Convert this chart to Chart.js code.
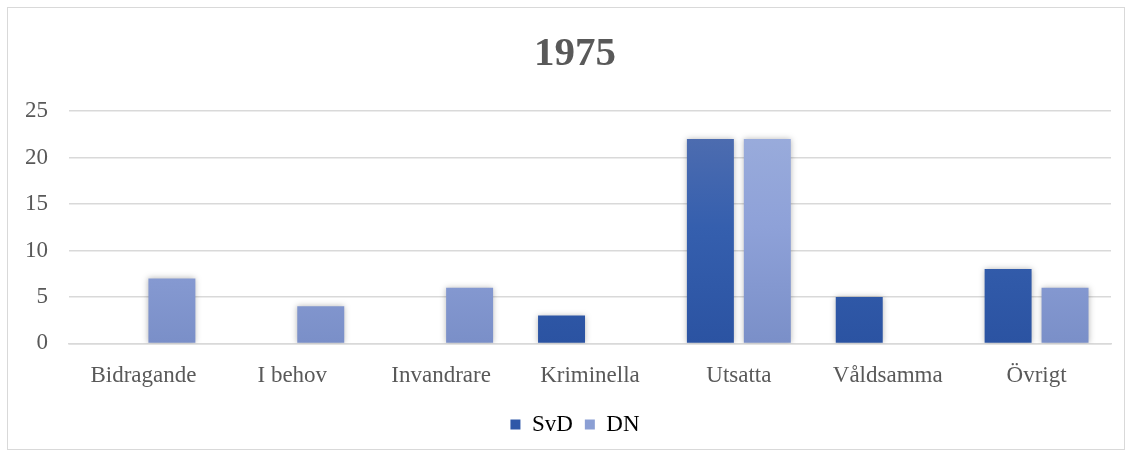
<!DOCTYPE html>
<html lang="sv">
<head>
<meta charset="UTF-8">
<title>1975</title>
<script src="https://cdn.jsdelivr.net/npm/chart.js"></script>
<style>
  html, body { margin: 0; padding: 0; background: #fff; }
  #wrap {
    position: absolute; left: 7px; top: 7px;
    width: 1116px; height: 441px;
    border: 1px solid #d9d9d9;
  }
</style>
</head>
<body>
<div id="wrap"><canvas id="myChart"></canvas></div>
<script>
  // data
  const categories = ['Bidragande', 'I behov', 'Invandrare', 'Kriminella', 'Utsatta', 'Våldsamma', 'Övrigt'];
  const svd = [0, 0, 0, 3, 22, 5, 8];
  const dn = [7, 4, 6, 0, 22, 0, 6];
  const yTicks = [0, 5, 10, 15, 20, 25];

  const serif = '"Liberation Serif", "Times New Roman", serif';

  function grad(ctx, top, mid, bottom) {
    const area = ctx.chart.chartArea;
    if (!area) return mid;
    const el = ctx.element;
    const y0 = el && el.y !== undefined ? el.y : area.top;
    const y1 = el && el.base !== undefined ? el.base : area.bottom;
    if (y1 - y0 < 1) return mid;
    const g = ctx.chart.ctx.createLinearGradient(0, y0, 0, y1);
    g.addColorStop(0, top);
    g.addColorStop(0.5, mid);
    g.addColorStop(1, bottom);
    return g;
  }

  // soft shadow under the bars
  const barShadow = {
    id: 'barShadow',
    afterLayout(chart) {
      // y labels are wider than the axis box, don't clip them
      chart.scales.y.left = 0;
    },
    beforeDatasetsDraw(chart) {
      const c = chart.ctx;
      c.save();
      c.shadowColor = 'rgba(0,0,0,0.28)';
      c.shadowBlur = 6;
    },
    afterDatasetsDraw(chart) {
      chart.ctx.restore();
    }
  };

  new Chart(document.getElementById('myChart'), {
    type: 'bar',
    data: {
      labels: categories,
      datasets: [{
        label: 'SvD',
        data: svd,
        backgroundColor: c => grad(c, '#5470b0', '#355fae', '#2b53a2'),
        borderWidth: 0,
        categoryPercentage: 0.765,
        barPercentage: 0.825
      }, {
        label: 'DN',
        data: dn,
        backgroundColor: c => grad(c, '#9caedc', '#8ea1d8', '#7a8fc8'),
        borderWidth: 0,
        categoryPercentage: 0.765,
        barPercentage: 0.825
      }]
    },
    plugins: [barShadow],
    options: {
      responsive: true,
      maintainAspectRatio: false,
      animation: false,
      layout: { padding: { left: 31, right: 13, top: 10, bottom: 3 } },
      plugins: {
        title: {
          display: true,
          text: '1975',
          color: '#595959',
          font: { family: serif, size: 41, weight: 'bold' },
          padding: { top: 12, bottom: 32 }
        },
        legend: {
          position: 'bottom',
          labels: {
            color: '#595959',
            font: { family: serif, size: 23 },
            boxWidth: 10,
            boxHeight: 10,
            padding: 12,
            generateLabels: chart => chart.data.datasets.map((ds, i) => ({
              text: ds.label,
              fillStyle: i === 0 ? '#2f58a8' : '#8b9fd4',
              strokeStyle: 'transparent',
              lineWidth: 0,
              datasetIndex: i
            }))
          }
        },
        tooltip: { enabled: false }
      },
      scales: {
        x: {
          grid: { display: false },
          border: { color: '#d9d9d9', width: 1.5 },
          ticks: { color: '#595959', font: { family: serif, size: 23 }, padding: 11 }
        },
        y: {
          min: 0,
          max: 25,
          afterBuildTicks: axis => { axis.ticks = yTicks.map(v => ({ value: v })); },
          afterFit: axis => { axis.width = 30; },
          grid: { color: '#d9d9d9', lineWidth: 1.5, drawTicks: false },
          border: { display: false },
          ticks: { color: '#595959', font: { family: serif, size: 23 }, padding: 21 }
        }
      }
    }
  });
</script>
</body>
</html>
